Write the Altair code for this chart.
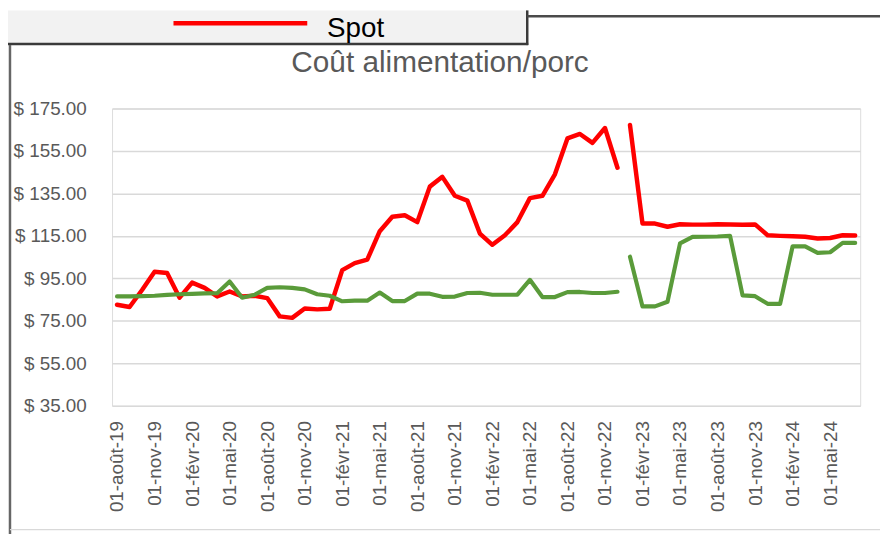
import altair as alt
import pandas as pd

# ---- categories (monthly, Aug 2019 -> Jul 2024) ----
fr_months = ["janv", "févr", "mars", "avr", "mai", "juin",
             "juil", "août", "sept", "oct", "nov", "déc"]
start_year, start_month, n_months = 2019, 8, 60
months = []
for i in range(n_months):
    k = start_month - 1 + i
    months.append(f"01-{fr_months[k % 12]}-{(start_year + k // 12) % 100:02d}")
tick_labels = months[::3]

# ---- series values ----
spot_part1 = [82.6, 81.5, 89.5, 98.1, 97.5, 85.9, 93.0, 90.5, 86.5, 88.8,
              86.5, 86.8, 85.7, 77.1, 76.4, 80.8, 80.4, 80.7, 98.9, 102.2,
              103.8, 117.2, 124.0, 124.7, 121.5, 138.2, 142.8, 133.9, 131.6, 116.1,
              110.8, 115.3, 121.5, 132.8, 133.9, 144.0, 160.9, 163.0, 158.8, 165.8,
              147.1]
spot_part2 = [167.2, 120.8, 120.8, 119.3, 120.5, 120.3, 120.3, 120.5, 120.4, 120.2,
              120.4, 115.3, 115.0, 114.8, 114.6, 113.8, 114.0, 115.3, 115.2]
other_part1 = [86.5, 86.5, 86.6, 86.8, 87.2, 87.5, 87.7, 87.9, 88.0, 93.5,
               85.9, 87.3, 90.5, 90.8, 90.5, 89.8, 87.5, 86.8, 84.2, 84.5,
               84.5, 88.3, 84.3, 84.3, 87.8, 87.8, 86.3, 86.4, 88.1, 88.2,
               87.3, 87.3, 87.3, 94.3, 86.2, 86.2, 88.5, 88.6, 88.1, 88.1,
               88.7]
other_part2 = [105.2, 81.8, 81.8, 84.0, 111.5, 114.5, 114.6, 114.7, 115.0, 87.0,
               86.6, 83.0, 83.0, 110.1, 110.1, 107.0, 107.3, 111.7, 111.7]

rows = []
def add(values, offset, serie, seg):
    for j, v in enumerate(values):
        rows.append({"mois": months[offset + j], "valeur": v, "serie": serie, "segment": seg})

add(spot_part1, 0, "Spot", 1)
add(spot_part2, len(spot_part1), "Spot", 2)
add(other_part1, 0, "Autre", 1)
add(other_part2, len(other_part1), "Autre", 2)
df = pd.DataFrame(rows)

FONT = "Liberation Sans"
GREY = "#595959"

x_enc = alt.X("mois:O", sort=months, title=None,
              scale=alt.Scale(type="point", padding=0.4),
              axis=alt.Axis(values=tick_labels, labelAngle=-90, ticks=False, domain=False,
                            grid=False, labelPadding=15, labelFontSize=19,
                            labelColor=GREY, labelFont=FONT))
y_enc = alt.Y("valeur:Q", title=None,
              scale=alt.Scale(domain=[35, 175], nice=False, zero=False),
              axis=alt.Axis(values=list(range(35, 176, 20)), ticks=False, domain=False,
                            labelExpr="'$ ' + format(datum.value, '.2f')",
                            labelPadding=26, labelFontSize=19, labelColor=GREY,
                            labelFont=FONT, gridColor="#d9d9d9", gridWidth=1.5))

red = alt.Chart(df).transform_filter(alt.datum.serie == "Spot").mark_line(
    color="#ff0000", strokeWidth=4.5, strokeCap="round", strokeJoin="round"
).encode(x=x_enc, y=y_enc, detail="segment:N")

green = alt.Chart(df).transform_filter(alt.datum.serie == "Autre").mark_line(
    color="#5a9b3a", strokeWidth=4.2, strokeCap="round", strokeJoin="round"
).encode(x=x_enc, y=y_enc, detail="segment:N")

one = pd.DataFrame({"k": [0]})
deco = alt.Chart(one)

legend_box = deco.mark_rect(color="#f2f2f2").encode(
    x=alt.value(-105), x2=alt.value(419), y=alt.value(-99), y2=alt.value(-65))
box_bottom = deco.mark_rule(color="#3a3a3a", strokeWidth=2.5).encode(
    x=alt.value(-105), x2=alt.value(420), y=alt.value(-65))
box_right = deco.mark_rule(color="#3a3a3a", strokeWidth=2.5).encode(
    x=alt.value(419), y=alt.value(-99), y2=alt.value(-64))
top_line = deco.mark_rule(color="#4a4a4a", strokeWidth=2.5).encode(
    x=alt.value(419), x2=alt.value(780), y=alt.value(-93))
left_border = deco.mark_rule(color="#666666", strokeWidth=2.5).encode(
    x=alt.value(-103), y=alt.value(-64), y2=alt.value(430))
bottom_border = deco.mark_rule(color="#d9d9d9", strokeWidth=1.5).encode(
    x=alt.value(-103), x2=alt.value(780), y=alt.value(425))
legend_line = deco.mark_rule(color="#ff0000", strokeWidth=4.5).encode(
    x=alt.value(62), x2=alt.value(197), y=alt.value(-86))
legend_text = deco.mark_text(font=FONT, fontSize=28, color="#000000",
                             align="left", baseline="alphabetic").encode(
    x=alt.value(217), y=alt.value(-72), text=alt.value("Spot"))
title = deco.mark_text(font=FONT, fontSize=30, color=GREY,
                       align="center", baseline="alphabetic").encode(
    x=alt.value(331), y=alt.value(-37), text=alt.value("Coût alimentation/porc"))

chart = alt.layer(
    legend_box, box_bottom, box_right, top_line, left_border, bottom_border,
    legend_line, legend_text, title, red, green
).properties(
    width=755, height=300,
    padding={"left": 105, "top": 99, "right": 20, "bottom": 127},
    autosize=alt.AutoSizeParams(type="none"),
).configure_view(stroke=None).configure(background="white")

chart.save("out.html", embed_options={"renderer": "svg", "actions": False})
